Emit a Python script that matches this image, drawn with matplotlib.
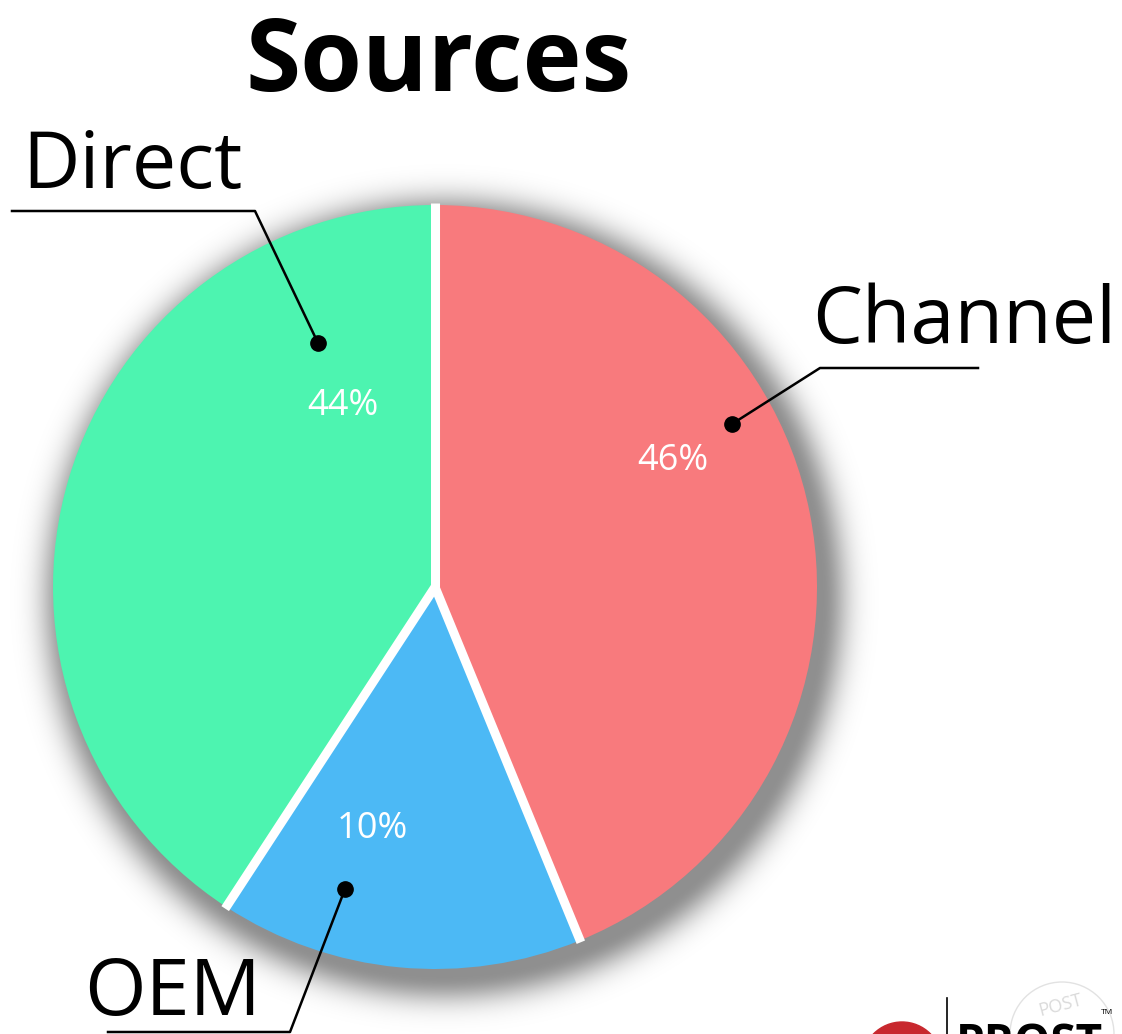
import numpy as np
import matplotlib.pyplot as plt
from matplotlib.patches import Circle

# slice data (shares, labels as printed)
labels = ['Channel', 'OEM', 'Direct']
shares = [43.8, 15.4, 40.8]
pct_text = ['46%', '10%', '44%']
colors = ['#F87A7D', '#4CB9F5', '#4DF4B0']

W, H = 1122, 1034
fig = plt.figure(figsize=(W / 100, H / 100), dpi=100)
ax = fig.add_axes([0, 0, 1, 1])

cx, cy, R = 435, 1034 - 587, 382

# soft drop shadow, offset down-right
yy, xx = np.mgrid[0:H, 0:W]
d = np.hypot(xx - (cx + 9), (H - yy) - (cy - 11)) - (R - 4)
a = np.where(d < 0, 0.44, 0.44 * np.exp(-(np.clip(d, 0, None) / 26.0) ** 2))
shadow = np.zeros((H, W, 4))
shadow[..., 3] = a
ax.imshow(shadow, extent=(0, W, 0, H), zorder=0)

wedges, _ = ax.pie(shares, colors=colors, startangle=90, counterclock=False,
                   center=(cx, cy), radius=R, wedgeprops=dict(linewidth=0))
for w in wedges:
    w.set_zorder(1)

# white separators
ang = 90 - np.cumsum([0] + shares[:-1]) / sum(shares) * 360
for t in ang:
    r = np.radians(t)
    ax.plot([cx, cx + (R + 2) * np.cos(r)], [cy, cy + (R + 2) * np.sin(r)],
            color='white', lw=6.5, solid_capstyle='butt', zorder=2)

fam = ['Open Sans', 'DejaVu Sans']
ax.text(439, H - 91, 'Sources', ha='center', va='baseline', fontsize=72,
        fontweight='bold', family=fam)

# percent labels
pct_pos = [(673, 461), (372, 829), (343, 406)]
for (px, py), t in zip(pct_pos, pct_text):
    ax.text(px, H - py, t, ha='center', va='center', fontsize=26,
            color='white', family=fam)

# callouts: dot, elbow, end of leader, text position (baseline)
callouts = [
    ((732, 424), (820, 368), (978, 368), (812, 343)),
    ((345, 889), (290, 1032), (108, 1032), (84, 1015)),
    ((318, 343), (255, 211), (12, 211), (22, 188)),
]
for (dot, elb, end, tpos), name in zip(callouts, labels):
    ax.plot([dot[0], elb[0], end[0]], [H - dot[1], H - elb[1], H - end[1]],
            color='black', lw=1.8, zorder=3)
    ax.plot(dot[0], H - dot[1], 'o', color='black', ms=11, zorder=4)
    ax.text(tpos[0], H - tpos[1], name, ha='left', va='baseline', fontsize=57,
            family=fam)

# logo fragment, bottom right (cut by the image edge, as in the source)
ax.add_patch(Circle((1062, H - 1034), 52, fill=False, ec='#E2E2E2', lw=1))
ax.text(1060, H - 1005, 'POST', fontsize=13, color='#DADADA', ha='center',
        va='center', rotation=15, family=fam)
ax.add_patch(Circle((902, H - 1062), 40, color='#C8282E', zorder=3))
ax.plot([947, 947], [0, H - 998], color='black', lw=1.2)
ax.text(956, H - 1021, 'PROST', fontsize=33, fontweight='bold', family=fam,
        ha='left', va='top')
ax.text(1101, H - 1014, 'TM', fontsize=6, family=fam)

ax.set_xlim(0, W)
ax.set_ylim(0, H)
ax.set_aspect('equal')
ax.axis('off')

fig.savefig('out.png', dpi=100)
